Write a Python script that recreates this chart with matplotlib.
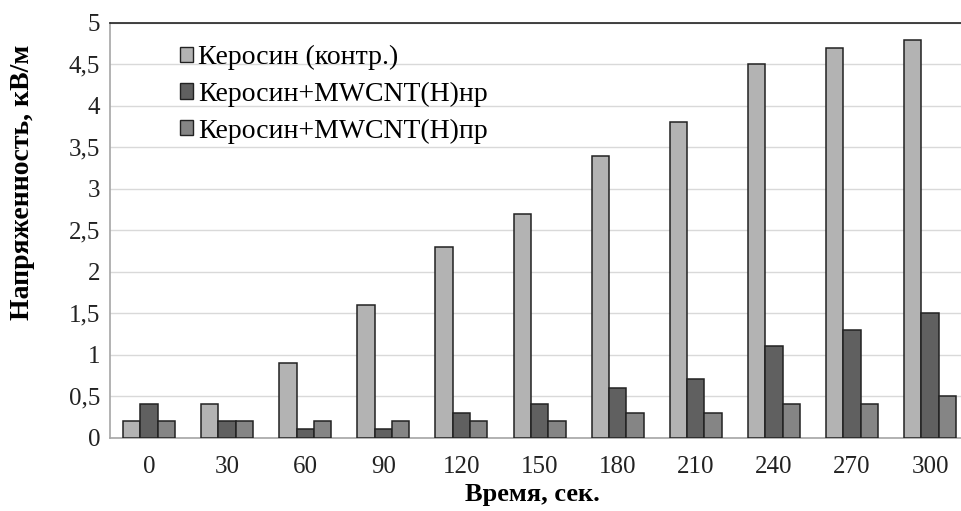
import numpy as np
import matplotlib.pyplot as plt

# время, сек.
times = ['0', '30', '60', '90', '120', '150', '180', '210', '240', '270', '300']
kerosene = [0.2, 0.4, 0.9, 1.6, 2.3, 2.7, 3.4, 3.8, 4.5, 4.7, 4.8]
mwcnt_nr = [0.4, 0.2, 0.1, 0.1, 0.3, 0.4, 0.6, 0.7, 1.1, 1.3, 1.5]
mwcnt_pr = [0.2, 0.2, 0.2, 0.2, 0.2, 0.2, 0.3, 0.3, 0.4, 0.4, 0.5]

labels = ['Керосин (контр.)', 'Керосин+MWCNT(Н)нр', 'Керосин+MWCNT(Н)пр']
colors = ['#b3b3b3', '#606060', '#858585']

plt.rcParams['font.family'] = ['Liberation Serif', 'DejaVu Serif']

W, H = 961, 511
fig = plt.figure(figsize=(W / 100, H / 100), dpi=100)
ax = fig.add_axes([110 / W, 1 - 437.5 / H, (W - 110) / W, (437.5 - 23) / H])

x = np.arange(len(times))
w = 1 / 4.5
for i, (vals, lab, c) in enumerate(zip([kerosene, mwcnt_nr, mwcnt_pr], labels, colors)):
    ax.bar(x + (i - 1) * w, vals, width=w, color=c, edgecolor='#222222',
           linewidth=1.1, label=lab, zorder=3)

# category width ~78 px, plot area cut at the right edge of the picture
ax.set_xlim(-0.5, -0.5 + (W - 110) / 78.1)
ax.set_ylim(0, 5)
ax.set_yticks(np.arange(0, 5.01, 0.5))
ax.set_yticklabels(['0', '0,5', '1', '1,5', '2', '2,5', '3', '3,5', '4', '4,5', '5'])
ax.set_xticks(x)
ax.set_xticklabels(times)
ax.tick_params(axis='both', length=0, labelsize=18, colors='#222222')
ax.tick_params(axis='y', pad=7)
ax.tick_params(axis='x', pad=13)

ax.grid(axis='y', color='#d9d9d9', linewidth=1, zorder=0)
for s in ['left', 'bottom']:
    ax.spines[s].set_color('#a6a6a6')
    ax.spines[s].set_linewidth(1.2)
ax.spines['top'].set_color('#222222')
ax.spines['top'].set_linewidth(1.2)
ax.spines['right'].set_visible(False)

fig.text(23 / W, 1 - 182 / H, 'Напряженность, кВ/м', rotation=90, fontsize=20,
         fontweight='bold', ha='center', va='center')
fig.text(532 / W, 1 - 494 / H, 'Время, сек.', fontsize=19, fontweight='bold',
         ha='center', va='center')

leg = ax.legend(loc='upper left', bbox_to_anchor=(166 / W, 1 - 31 / H),
                bbox_transform=fig.transFigure, frameon=False, borderpad=0,
                fontsize=20, handlelength=0.47, handleheight=0.47,
                handletextpad=0.2, labelspacing=0.42)
for h in leg.legend_handles:
    h.set_linewidth(1.0)

fig.savefig('out.png', dpi=100)
